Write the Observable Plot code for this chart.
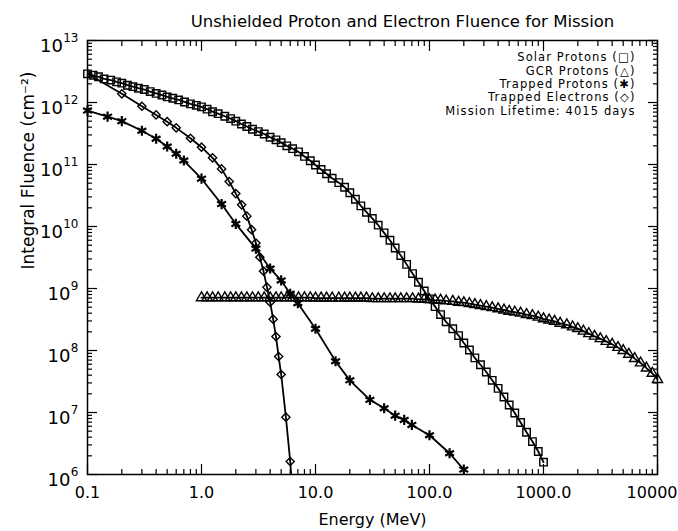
<!DOCTYPE html>
<html><head><meta charset="utf-8">
<script src="https://cdn.jsdelivr.net/npm/d3@7"></script>
<script src="https://cdn.jsdelivr.net/npm/@observablehq/plot@0.6"></script>
<style>html,body{margin:0;padding:0;background:#fff}#chart svg{display:block}.legend text{letter-spacing:1.1px}</style>
</head><body><div id="chart"></div>
<script>
// ---- data ----
const solarE = [0.1,0.112,0.125,0.14,0.16,0.18,0.2,0.224,0.25,0.28,0.315,0.355,0.4,0.45,0.5,0.56,0.63,0.71,0.8,0.9,
  1,1.12,1.25,1.4,1.6,1.8,2,2.24,2.5,2.8,3.15,3.55,4,4.5,5,5.6,6.3,7.1,8,9,
  10,11.2,12.5,14,16,18,20,22.4,25,28,31.5,35.5,40,45,50,56,63,71,80,90,
  100,112,125,140,160,180,200,224,250,280,315,355,400,450,500,560,630,710,800,900,1000];
const solarF = [2.9e12,2.75e12,2.6e12,2.4e12,2.3e12,2.15e12,2.05e12,1.9e12,1.8e12,1.7e12,1.62e12,1.5e12,1.4e12,1.32e12,1.23e12,1.17e12,1.1e12,1.02e12,9.5e11,9.0e11,
  8.5e11,7.8e11,7.1e11,6.6e11,6.0e11,5.5e11,5.0e11,4.5e11,4.1e11,3.7e11,3.4e11,3.1e11,2.75e11,2.5e11,2.25e11,2.0e11,1.8e11,1.6e11,1.35e11,1.15e11,
  9.8e10,8.3e10,7.1e10,6.0e10,5.1e10,4.3e10,3.5e10,2.75e10,2.15e10,1.7e10,1.35e10,1.05e10,7.9e9,6.0e9,4.5e9,3.4e9,2.45e9,1.74e9,1.26e9,9.1e8,
  6.8e8,5.1e8,3.8e8,2.9e8,2.24e8,1.74e8,1.32e8,1.02e8,7.6e7,5.9e7,4.5e7,3.3e7,2.45e7,1.78e7,1.32e7,9.8e6,6.9e6,4.8e6,3.4e6,2.35e6,1.58e6];

const gcrE = [1,1.12,1.25,1.4,1.6,1.8,2,2.24,2.5,2.8,3.15,3.55,4,4.5,5,5.6,6.3,7.1,8,9,
  10,11.2,12.5,14,16,18,20,22.4,25,28,31.5,35.5,40,45,50,56,63,71,80,90,
  100,112,125,140,160,180,200,224,250,280,315,355,400,450,500,560,630,710,800,900,
  1000,1120,1250,1400,1600,1800,2000,2240,2500,2800,3150,3550,4000,4500,5000,5600,6300,7100,8000,9000,10000];
const gcrF = [7.1e8,7.1e8,7.1e8,7.1e8,7.1e8,7.1e8,7.1e8,7.1e8,7.1e8,7.1e8,7.1e8,7.1e8,7.1e8,7.1e8,7.1e8,7.1e8,7.1e8,7.1e8,7.1e8,7.1e8,
  7.0e8,7.0e8,7.0e8,7.0e8,7.0e8,7.0e8,7.0e8,7.0e8,7.0e8,7.0e8,6.85e8,6.85e8,6.85e8,6.85e8,6.85e8,6.85e8,6.85e8,6.85e8,6.75e8,6.7e8,
  6.6e8,6.5e8,6.45e8,6.3e8,6.2e8,6.0e8,5.9e8,5.7e8,5.5e8,5.3e8,5.1e8,4.9e8,4.7e8,4.5e8,4.3e8,4.15e8,4.0e8,3.8e8,3.65e8,3.45e8,
  3.25e8,3.1e8,2.95e8,2.75e8,2.6e8,2.4e8,2.25e8,2.05e8,1.87e8,1.7e8,1.55e8,1.4e8,1.26e8,1.12e8,1.0e8,8.7e7,7.4e7,6.3e7,5.2e7,4.3e7,3.4e7];

const tpE = [0.1,0.15,0.2,0.3,0.4,0.5,0.6,0.7,1,1.5,2,3,4,5,6,7,10,15,20,30,40,50,60,70,100,150,200];
const tpF = [7.4e11,5.9e11,5.0e11,3.5e11,2.6e11,1.95e11,1.49e11,1.16e11,5.9e10,2.3e10,1.1e10,4.4e9,2.1e9,1.35e9,8.2e8,5.8e8,
  2.24e8,6.7e7,3.3e7,1.6e7,1.17e7,8.9e6,7.6e6,6.3e6,4.3e6,2.2e6,1.2e6];

const teE = [0.1,0.2,0.3,0.4,0.5,0.6,0.8,1.0,1.25,1.5,1.75,2.0,2.25,2.5,2.75,3.0,3.25,3.5,3.75,4.0,4.25,4.5,4.75,5.0,5.5,6.0,6.5];
const teF = [2.9e12,1.38e12,8.7e11,6.3e11,4.9e11,3.9e11,2.65e11,1.9e11,1.28e11,8.5e10,5.3e10,3.4e10,2.24e10,1.47e10,8.9e9,5.4e9,
  3.2e9,1.9e9,1.05e9,6.0e8,3.2e8,1.68e8,8.0e7,4.1e7,8.4e6,1.62e6,2.5e5];

const xMajor = [0.1,1,10,100,1000,10000];
const xTickLabels = ["0.1","1.0","10.0","100.0","1000.0","10000"];
const xMinor = [0.2,0.3,0.4,0.5,0.6,0.7,0.8,0.9,2,3,4,5,6,7,8,9,20,30,40,50,60,70,80,90,200,300,400,500,600,700,800,900,2000,3000,4000,5000,6000,7000,8000,9000];
const yExp = [6,7,8,9,10,11,12,13];
const yMinorMant = [2,3,4,5,6,7,8,9];

const title = "Unshielded Proton and Electron Fluence for Mission";
const xTitle = "Energy (MeV)";
const yTitle = "Integral Fluence (cm\u207B\u00B2)";
const legendLines = ["Solar Protons (\u25A1)","GCR Protons (\u25B3)","Trapped Protons (\u2731)","Trapped Electrons (\u25C7)","Mission Lifetime: 4015 days"];

// ---- build tables ----
const toRows = (E, F) => E.map((e, i) => ({E: e, F: F[i]}));
const solar = toRows(solarE, solarF);
const gcr = toRows(gcrE, gcrF);
const tp = toRows(tpE, tpF);
const te = toRows(teE, teF);
const yMajor = yExp.map(p => ({v: Math.pow(10, p), p}));
const yMajorV = yMajor.map(d => d.v);
const yMinor = yExp.slice(0, -1).flatMap(p => yMinorMant.map(m => m * Math.pow(10, p)));
const xLab = xMajor.map((v, i) => ({v, t: xTickLabels[i]}));

const lineOpts = {x: "E", y: "F", stroke: "black", strokeWidth: 1.8, clip: true};
const dotOpts = {x: "E", y: "F", fill: "none", stroke: "black", strokeWidth: 1.4};
const tickStyle = {fill: "none", strokeWidth: 1.2};

const chart = Plot.plot({
  width: 678, height: 531,
  marginLeft: 87, marginRight: 21, marginTop: 40, marginBottom: 57,
  style: {fontFamily: "DejaVu Sans", fontSize: "16px", background: "white", color: "black"},
  x: {type: "log", domain: [0.1, 10000]},
  y: {type: "log", domain: [1e6, 1e13]},
  marks: [
    Plot.axisX(xMinor, {anchor: "bottom", tickSize: -5, ...tickStyle}),
    Plot.axisX(xMinor, {anchor: "top", tickSize: -5, ...tickStyle}),
    Plot.axisX(xMajor, {anchor: "bottom", tickSize: -10, ...tickStyle}),
    Plot.axisX(xMajor, {anchor: "top", tickSize: -10, ...tickStyle}),
    Plot.axisY(yMinor, {anchor: "left", tickSize: -5, ...tickStyle}),
    Plot.axisY(yMinor, {anchor: "right", tickSize: -5, ...tickStyle}),
    Plot.axisY(yMajorV, {anchor: "left", tickSize: -10, ...tickStyle}),
    Plot.axisY(yMajorV, {anchor: "right", tickSize: -10, ...tickStyle}),
    // x tick labels
    Plot.text(xLab.slice(0, 5), {x: "v", text: "t", frameAnchor: "bottom", lineAnchor: "top", dy: 12, fontSize: 16}),
    Plot.text(xLab.slice(5), {x: "v", text: "t", frameAnchor: "bottom", lineAnchor: "top", textAnchor: "end", dy: 12, dx: 20, fontSize: 16}),
    // y tick labels: base "10" and raised exponent
    Plot.text(yMajor, {y: "v", text: d => String(d.p), frameAnchor: "left", textAnchor: "end", dx: -9, dy: -2, fontSize: 12}),
    Plot.text(yMajor.filter(d => d.p >= 10), {y: "v", text: () => "10", frameAnchor: "left", textAnchor: "end", dx: -24.5, dy: 6, fontSize: 18}),
    Plot.text(yMajor.filter(d => d.p < 10), {y: "v", text: () => "10", frameAnchor: "left", textAnchor: "end", dx: -17, dy: 6, fontSize: 18}),
    Plot.frame({stroke: "black", strokeWidth: 1.5}),
    Plot.line(solar, lineOpts),
    Plot.dot(solar, {...dotOpts, symbol: "square", r: 4.2}),
    Plot.line(gcr, lineOpts),
    Plot.dot(gcr, {...dotOpts, symbol: "triangle", r: 3.8}),
    Plot.line(tp, lineOpts),
    Plot.dot(tp, {...dotOpts, symbol: "asterisk", r: 4.8, strokeWidth: 2.2}),
    Plot.line(te, lineOpts),
    Plot.dot(te, {...dotOpts, symbol: "diamond2", r: 3.7, clip: true}),
    Plot.text([title], {text: d => d, frameAnchor: "top", dx: 30, dy: -25, fontSize: 16.5}),
    Plot.text([xTitle], {text: d => d, frameAnchor: "bottom", dy: 50, fontSize: 16}),
    Plot.text([yTitle], {text: d => d, frameAnchor: "left", rotate: -90, dx: -59, dy: 12, fontSize: 17}),
    Plot.text([legendLines.join("\n")], {text: d => d, frameAnchor: "top-right", textAnchor: "end", className: "legend",
      lineAnchor: "top", dx: -22, dy: 11, fontSize: 11.5, lineHeight: 1.17})
  ]
});
document.getElementById("chart").appendChild(chart);
</script></body></html>
